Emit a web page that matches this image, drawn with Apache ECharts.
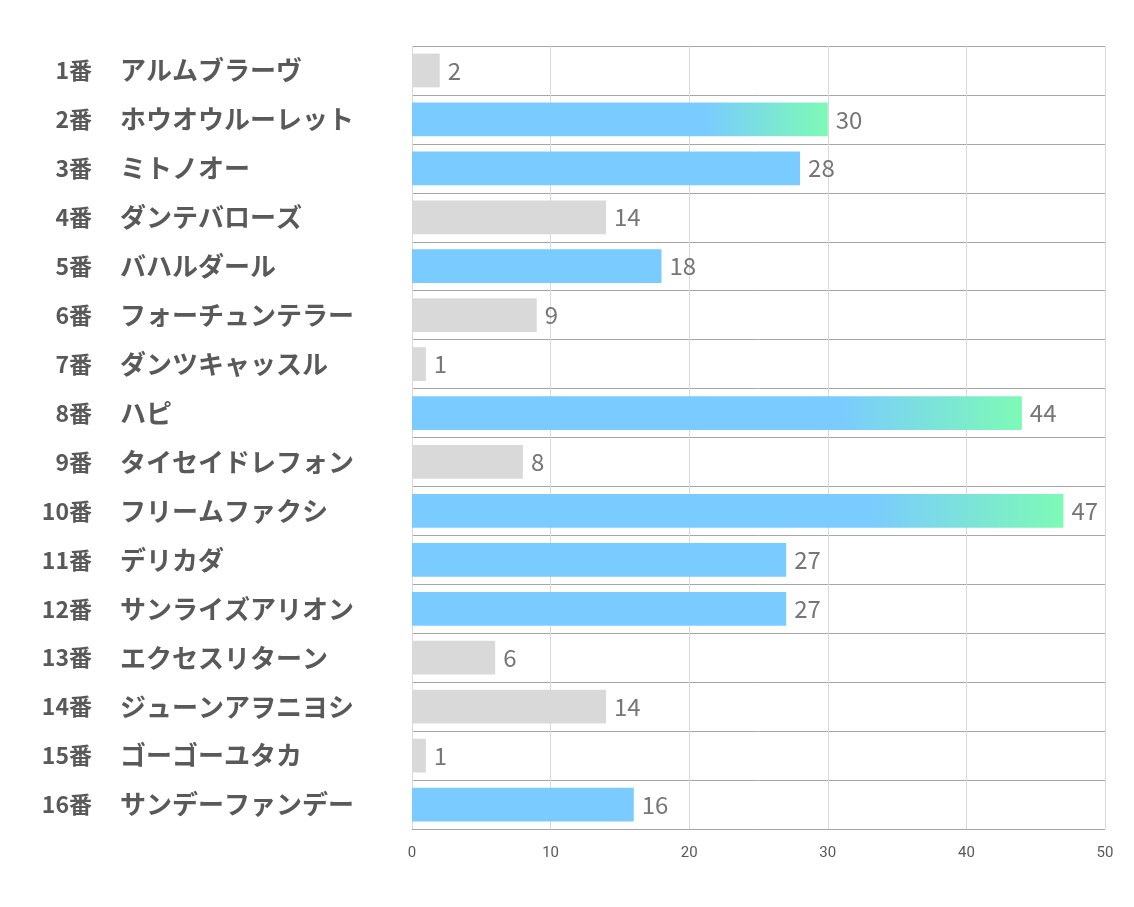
<!DOCTYPE html>
<html>
<head>
<meta charset="utf-8">
<script src="https://cdn.jsdelivr.net/npm/echarts@6/dist/echarts.min.js"></script>
<style>
  html, body { margin: 0; padding: 0; background: #fff; }
  #main { width: 1134px; height: 907px; }
</style>
</head>
<body>
<div id="main"></div>
<script>
// horse numbers and names, top to bottom
var numbers = ['1番', '2番', '3番', '4番', '5番', '6番', '7番', '8番',
  '9番', '10番', '11番', '12番', '13番', '14番', '15番', '16番'];
var names = ['アルムブラーヴ', 'ホウオウルーレット', 'ミトノオー', 'ダンテバローズ',
  'バハルダール', 'フォーチュンテラー', 'ダンツキャッスル', 'ハピ',
  'タイセイドレフォン', 'フリームファクシ', 'デリカダ', 'サンライズアリオン',
  'エクセスリターン', 'ジューンアヲニヨシ', 'ゴーゴーユタカ', 'サンデーファンデー'];
var values = [2, 30, 28, 14, 18, 9, 1, 44, 8, 47, 27, 27, 6, 14, 1, 16];
var xTicks = [0, 10, 20, 30, 40, 50];

var GRAY = '#d9d9d9';
var BLUE = '#7acbff';
var GREEN = '#7dfab6';
var TEXT = '#595959';
var JP = 'Noto Sans CJK JP';

// top 3 get the gradient, 15 and over blue, the rest gray
var sorted = values.slice().sort(function (a, b) { return b - a; });
var top3 = sorted[2];

function barColor(v) {
  if (v >= top3) {
    return new echarts.graphic.LinearGradient(0, 0, 1, 0, [
      { offset: 0, color: BLUE },
      { offset: 0.7, color: BLUE },
      { offset: 1, color: GREEN }
    ]);
  }
  if (v >= 15) return BLUE;
  return GRAY;
}

var chart = echarts.init(document.getElementById('main'));

var option = {
  animation: false,
  grid: { left: 412, right: 29, top: 46, bottom: 78, containLabel: false },
  xAxis: {
    type: 'value',
    min: xTicks[0],
    max: xTicks[xTicks.length - 1],
    interval: 10,
    axisLine: { show: false },
    axisTick: { show: false },
    axisLabel: {
      margin: 17,
      color: TEXT,
      fontSize: 15,
      fontFamily: 'Liberation Sans Narrow, Roboto, sans-serif'
    },
    splitLine: { lineStyle: { color: '#d9d9d9', width: 1 } }
  },
  yAxis: [
    {
      // horse names, left aligned at x=120
      type: 'category',
      inverse: true,
      data: names,
      axisLine: { show: false },
      axisTick: { show: false },
      splitLine: { show: true, lineStyle: { color: '#a6a6a6', width: 1 } },
      axisLabel: {
        margin: 292,
        align: 'left',
        fontSize: 26,
        fontWeight: 'bold',
        color: TEXT,
        fontFamily: JP
      }
    },
    {
      // horse numbers, right aligned at x=92
      type: 'category',
      position: 'left',
      inverse: true,
      data: numbers,
      axisLine: { show: false },
      axisTick: { show: false },
      splitLine: { show: false },
      axisLabel: {
        margin: 320,
        align: 'right',
        fontSize: 23,
        fontWeight: 'bold',
        color: TEXT,
        fontFamily: JP
      }
    }
  ],
  series: [
    {
      type: 'bar',
      yAxisIndex: 0,
      barCategoryGap: '31%',
      data: values.map(function (v) {
        return { value: v, itemStyle: { color: barColor(v) } };
      }),
      label: {
        show: true,
        position: 'right',
        distance: 8,
        color: '#767676',
        fontSize: 24,
        fontFamily: JP
      }
    }
  ]
};

chart.setOption(option);
</script>
</body>
</html>
